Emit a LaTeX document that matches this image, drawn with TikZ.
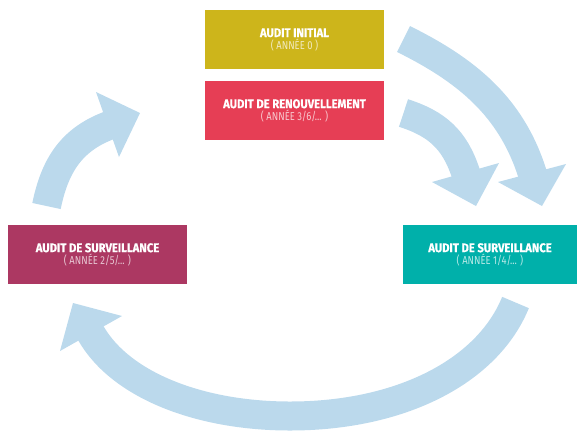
\documentclass[tikz,border=0pt]{standalone}
\usepackage{fontspec}
\setmainfont{Fira Sans}
\newfontfamily\titlefont[FakeStretch=0.9, BoldFeatures={FakeStretch=0.9,FakeBold=0.5}]{Fira Sans}
\newfontfamily\subfont[FakeStretch=0.82]{Fira Sans}
\definecolor{arrowblue}{RGB}{187,217,236}
\definecolor{cinit}{RGB}{205,181,27}
\definecolor{crenew}{RGB}{230,62,85}
\definecolor{cleft}{RGB}{172,56,98}
\definecolor{cright}{RGB}{0,176,170}
\newcommand{\boxtext}[3]{{\titlefont\bfseries\fontsize{12.5}{16}\selectfont #1}\\{\subfont\fontsize{11.5}{16}\selectfont\color{white!72!#3}#2}}
\tikzset{
  auditbox/.style={rectangle, inner sep=0pt, minimum height=59pt, text=white, align=center},
  flow/.style={draw=arrowblue, line width=29pt, line cap=butt},
  headtip/.style={fill=arrowblue}
}
\begin{document}
\begin{tikzpicture}[x=1pt,y=-1pt]
\useasboundingbox (0,0) rectangle (577,432);
% boxes
\node[auditbox, minimum width=179pt, fill=cinit] (init) at (294.5,39.5) {\boxtext{AUDIT INITIAL}{( ANNÉE 0 )}{cinit}};
\node[auditbox, minimum width=179pt, fill=crenew] (renew) at (294.5,110.5) {\boxtext{AUDIT DE RENOUVELLEMENT}{( ANNÉE 3/6/... )}{crenew}};
\node[auditbox, minimum width=179pt, fill=cleft] (survL) at (97.5,254.5) {\boxtext{AUDIT DE SURVEILLANCE}{( ANNÉE 2/5/... )}{cleft}};
\node[auditbox, minimum width=174pt, fill=cright] (survR) at (490,254.5) {\boxtext{AUDIT DE SURVEILLANCE}{( ANNÉE 1/4/... )}{cright}};
% arrow 1 (big, from initial)
\coordinate (a1s) at (403.5,39);
\coordinate (a1e) at (532,172.5);
\draw[flow] (a1s) .. controls (466,70) and (510.6,106) .. (a1e) -- (533,175.5);
\fill[headtip] (498,182) -- (542,206) -- (566,164) -- cycle;
% arrow 2 (small, from renewal)
\coordinate (a2s) at (403.5,113);
\coordinate (a2e) at (465.5,172.5);
\draw[flow] (a2s) .. controls (436.8,123.7) and (454.4,139.3) .. (a2e) -- (466.5,175.5);
\fill[headtip] (432,182) -- (476,206) -- (499,163) -- cycle;
% arrow 3 (left, upward)
\coordinate (a3s) at (46.5,206);
\coordinate (a3e) at (107.5,126);
\draw[flow] (a3s) .. controls (54.6,166.8) and (70.3,140.6) .. (a3e) -- (110.3,124.9);
\fill[headtip] (96,92) -- (140,113) -- (119,157) -- cycle;
% arrow 4 (bottom)
\coordinate (a4s) at (515.5,302.5);
\coordinate (a4m) at (290,416);
\coordinate (a4e) at (91,333.5);
\draw[flow] (a4s) .. controls (487.2,371.9) and (400,416) .. (a4m) .. controls (200,416) and (121,385.5) .. (a4e) -- (89.5,330.9);
\fill[headtip] (122,316) -- (73,303) -- (60,351) -- cycle;
\end{tikzpicture}
\end{document}
